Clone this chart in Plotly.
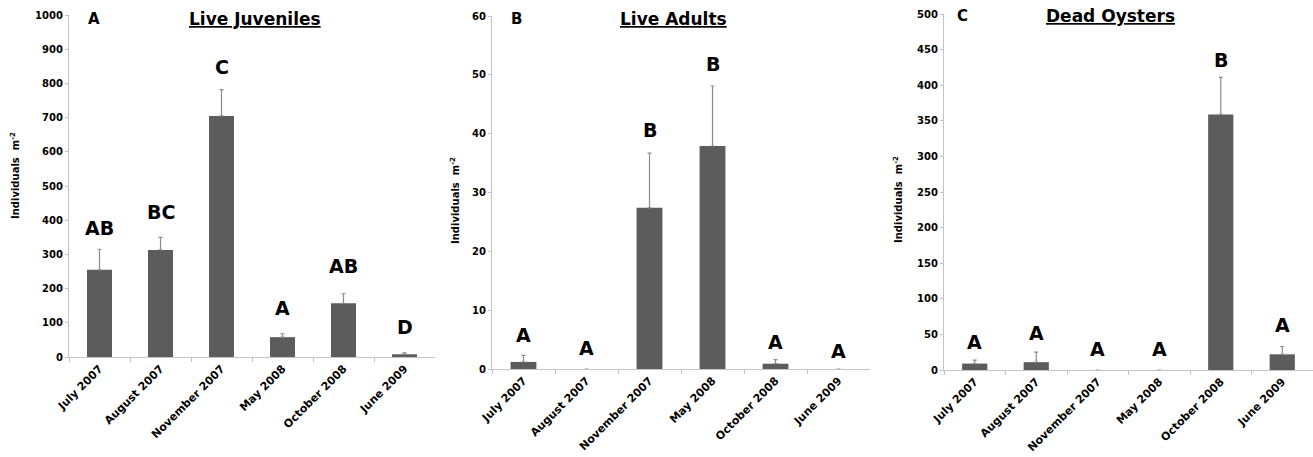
import plotly.graph_objects as go

categories = ["July 2007", "August 2007", "November 2007", "May 2008", "October 2008", "June 2009"]

juv_mean = [255, 313, 705, 58, 157, 8]
juv_err = [60, 37, 77, 10, 28, 4]
juv_letters = ["AB", "BC", "C", "A", "AB", "D"]
juv_letter_y = [377, 424, 848, 143, 266, 88]

adult_mean = [1.2, 0, 27.4, 37.9, 0.9, 0]
adult_err = [1.1, 0, 9.3, 10.2, 0.7, 0]
adult_letters = ["A", "A", "B", "B", "A", "A"]
adult_letter_y = [5.8, 3.6, 40.6, 51.8, 4.6, 3.1]

dead_mean = [9, 11, 0, 0, 359, 22]
dead_err = [5, 14, 0, 0, 52, 11]
dead_letters = ["A", "A", "A", "A", "B", "A"]
dead_letter_y = [39, 52, 29, 29, 435, 63]

panel_titles = ["Live Juveniles", "Live Adults", "Dead Oysters"]
panel_tags = ["A", "B", "C"]
y_ranges = [[0, 1000], [0, 60], [0, 500]]
y_dticks = [100, 10, 50]

FONT = "DejaVu Sans"
BAR = "#5c5c5c"
W, H = 1313, 457

fig = go.Figure()
panels = [
    (juv_mean, juv_err, juv_letters, juv_letter_y),
    (adult_mean, adult_err, adult_letters, adult_letter_y),
    (dead_mean, dead_err, dead_letters, dead_letter_y),
]
x_domains = [[69 / W, 435 / W], [492 / W, 870 / W], [944 / W, 1.0]]
y_domains = [[1 - 357 / H, 1 - 15 / H], [1 - 369 / H, 1 - 16 / H], [1 - 370 / H, 1 - 14 / H]]
ylab_x = [15, 455, 898]
ylab_y = [176, 200, 200]
tag_x = [94, 516, 963]
tag_y = [19, 19, 16]
title_x = [255, 673, 1110]

for i, (mean, err, letters, ly) in enumerate(panels):
    n = i + 1
    xa = "x" if n == 1 else f"x{n}"
    ya = "y" if n == 1 else f"y{n}"
    fig.add_trace(go.Bar(
        x=categories, y=mean, xaxis=xa, yaxis=ya,
        marker=dict(color=BAR, line=dict(width=0)),
        width=0.41,
        error_y=dict(type="data", array=err, arrayminus=[0] * len(err),
                     symmetric=False, color="#8c8c8c", thickness=1.2, width=2),
        showlegend=False,
    ))
    xkey = "xaxis" if n == 1 else f"xaxis{n}"
    ykey = "yaxis" if n == 1 else f"yaxis{n}"
    fig.update_layout(**{
        xkey: dict(domain=x_domains[i], anchor=ya, type="category", automargin=False,
                   range=[-0.5, 5.5], showline=True, linecolor="#c4c4c4",
                   linewidth=1.2, ticks="outside", tickson="boundaries",
                   ticklen=4, tickcolor="#c4c4c4", tickangle=-45,
                   showgrid=False, zeroline=False,
                   tickfont=dict(family=FONT, size=11, color="black", weight="bold")),
        ykey: dict(domain=y_domains[i], anchor=xa, range=y_ranges[i], automargin=False,
                   dtick=y_dticks[i], showline=True, linecolor="#c4c4c4",
                   linewidth=1.2, ticks="outside", ticklen=3,
                   tickcolor="#c4c4c4", showgrid=False, zeroline=False,
                   tickfont=dict(family=FONT, size=10, color="black", weight="bold")),
    })
    for c, lab, yy in zip(categories, letters, ly):
        fig.add_annotation(x=c, y=yy, xref=xa, yref=ya, text=lab,
                           showarrow=False, xanchor="center", yanchor="middle",
                           font=dict(family=FONT, size=19, color="black", weight="bold"))
    fig.add_annotation(x=tag_x[i] / W, y=1 - tag_y[i] / H, xref="paper", yref="paper",
                       text=panel_tags[i], showarrow=False, xanchor="center", yanchor="middle",
                       font=dict(family=FONT, size=15, color="black", weight="bold"))
    fig.add_annotation(x=title_x[i] / W, y=1 - tag_y[i] / H, xref="paper", yref="paper",
                       text=f"<u>{panel_titles[i]}</u>", showarrow=False,
                       xanchor="center", yanchor="middle",
                       font=dict(family=FONT, size=17, color="black", weight="bold"))
    fig.add_annotation(x=ylab_x[i] / W, y=1 - ylab_y[i] / H, xref="paper", yref="paper",
                       text="Individuals  m<sup>-2</sup>", textangle=-90, showarrow=False,
                       xanchor="center", yanchor="middle",
                       font=dict(family=FONT, size=10, color="black", weight="bold"))

fig.update_layout(width=W, height=H, margin=dict(l=0, r=0, t=0, b=0),
                  paper_bgcolor="white", plot_bgcolor="white")
fig.write_html("out.html", config={"displayModeBar": False},
               post_script="document.body.style.margin='0';document.body.style.overflow='hidden';")
